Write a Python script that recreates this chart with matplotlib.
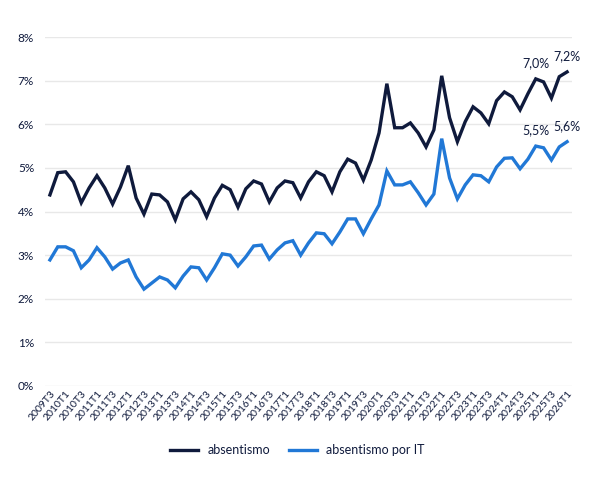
import matplotlib
matplotlib.use("Agg")
import matplotlib.pyplot as plt
from matplotlib.ticker import FuncFormatter

plt.rcParams['font.family'] = ['Lato', 'DejaVu Sans']

quarters = []
for y in range(2009, 2027):
    for q in (1, 2, 3, 4):
        quarters.append(f"{y}T{q}")
quarters = quarters[quarters.index("2009T3"):quarters.index("2026T1") + 1]

absentismo = [4.38, 4.89, 4.91, 4.68, 4.20, 4.54, 4.82, 4.54, 4.17, 4.56, 5.05, 4.31, 3.94, 4.40,
              4.38, 4.22, 3.81, 4.29, 4.45, 4.27, 3.88, 4.31, 4.60, 4.50, 4.10, 4.52, 4.70, 4.63,
              4.22, 4.54, 4.70, 4.66, 4.31, 4.68, 4.91, 4.82, 4.45, 4.91, 5.20, 5.11, 4.72, 5.18,
              5.80, 6.93, 5.92, 5.92, 6.03, 5.80, 5.48, 5.87, 7.11, 6.15, 5.60, 6.06, 6.40, 6.26,
              6.01, 6.54, 6.74, 6.63, 6.33, 6.70, 7.04, 6.97, 6.60, 7.09, 7.20]
absentismo_it = [2.89, 3.19, 3.19, 3.10, 2.71, 2.89, 3.17, 2.96, 2.68, 2.82, 2.89, 2.50, 2.22, 2.36,
                 2.50, 2.43, 2.25, 2.52, 2.73, 2.71, 2.43, 2.71, 3.03, 3.00, 2.75, 2.96, 3.21, 3.23,
                 2.91, 3.12, 3.28, 3.33, 3.00, 3.28, 3.51, 3.49, 3.26, 3.53, 3.83, 3.83, 3.49, 3.83,
                 4.15, 4.93, 4.61, 4.61, 4.68, 4.43, 4.15, 4.40, 5.67, 4.77, 4.29, 4.61, 4.84, 4.82,
                 4.68, 5.02, 5.22, 5.23, 4.98, 5.20, 5.50, 5.46, 5.18, 5.48, 5.60]
labels_idx = [62, 66]

dark = "#0f1a3c"
blue = "#2178d6"

fig = plt.figure(figsize=(5.95, 5.0), dpi=100)
ax = fig.add_axes([0.076, 0.228, 0.885, 0.698])
x = list(range(len(quarters)))
ax.plot(x, absentismo, color=dark, lw=2.4, label="absentismo", solid_joinstyle="miter")
ax.plot(x, absentismo_it, color=blue, lw=2.4, label="absentismo por IT", solid_joinstyle="miter")
for i in labels_idx:
    for s, c in ((absentismo, dark), (absentismo_it, dark)):
        ax.annotate(f"{s[i]:.1f}%".replace(".", ","), (i, s[i]), xytext=(0, 7),
                    textcoords="offset points", ha="center", va="bottom", fontsize=9, color=c)

ax.set_ylim(0, 8)
ax.set_xlim(-0.6, len(x) - 0.4)
ax.set_yticks(range(0, 9))
ax.yaxis.set_major_formatter(FuncFormatter(lambda v, p: f"{int(v)}%"))
ax.set_xticks(x[::2])
ax.set_xticklabels(quarters[::2], rotation=50, ha="right", rotation_mode="anchor", fontsize=7.5, color=dark)
ax.tick_params(axis="y", labelsize=8.5, colors=dark, length=0, pad=8)
ax.tick_params(axis="x", length=0, pad=2)
ax.grid(axis="y", color="#e8e8e8", lw=1)
ax.set_axisbelow(True)
for sp in ax.spines.values():
    sp.set_visible(False)

fig.legend(loc="center", bbox_to_anchor=(0.5, 0.1), ncol=2, frameon=False, fontsize=9,
           handlelength=2.2, columnspacing=1.5, labelcolor=dark)
fig.savefig("out.png", dpi=100)
